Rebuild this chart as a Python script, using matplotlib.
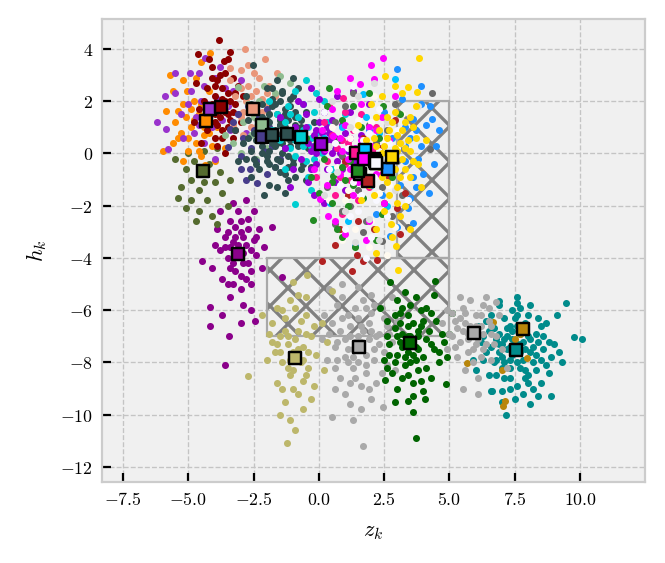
import matplotlib
matplotlib.use("Agg")
import matplotlib.pyplot as plt
from matplotlib.patches import Rectangle
from matplotlib.ticker import FixedLocator, FuncFormatter

# ---------------- data ----------------
cluster_names = ['darkcyan', 'darkgoldenrod', 'darkgray', 'darkgreen', 'darkgrey', 'darkkhaki',
                 'darkmagenta', 'darkolivegreen', 'darkorange', 'darkorchid', 'darkred', 'darksalmon',
                 'darkseagreen', 'darkslateblue', 'darkslategray', 'darkslategrey', 'darkturquoise',
                 'darkviolet', 'deeppink', 'deepskyblue', 'dimgray', 'dimgrey', 'dodgerblue', 'firebrick',
                 'floralwhite', 'forestgreen', 'fuchsia', 'gainsboro', 'ghostwhite', 'gold']

center_z = [7.53, 7.83, 1.55, 3.49, 5.94, -0.91, -3.09, -4.46, -4.33, -4.18, -3.77, -2.53,
            -2.20, -2.20, -1.78, -1.21, -0.69, 0.08, 1.41, 1.78, 2.12, 1.57, 2.66, 1.89,
            2.20, 1.48, 1.74, 2.15, 2.20, 2.81]
center_h = [-7.54, -6.72, -7.42, -7.27, -6.87, -7.85, -3.83, -0.68, 1.23, 1.72, 1.77, 1.72,
            1.08, 0.64, 0.70, 0.75, 0.63, 0.37, 0.03, 0.12, -0.23, -0.80, -0.59, -1.06,
            -0.36, -0.68, -0.20, -0.30, -0.36, -0.13]

pts_darkcyan = [(7.5,-7.5),(7.2,-7.0),(7.8,-7.2),(7.0,-7.8),(8.1,-7.6),(7.6,-6.6),(6.9,-6.9),(8.3,-6.9),(7.3,-8.2),(7.9,-8.3),
    (6.6,-7.4),(8.5,-7.9),(7.1,-6.3),(8.0,-6.2),(6.8,-8.5),(7.6,-8.9),(8.6,-7.0),(6.5,-6.8),(7.4,-6.0),(8.8,-8.4),
    (7.0,-9.1),(8.2,-9.0),(6.3,-7.9),(9.0,-7.3),(7.7,-5.9),(6.9,-5.8),(8.4,-6.3),(7.2,-7.5),(7.8,-7.9),(7.4,-7.1),
    (7.0,-7.3),(8.0,-7.0),(7.6,-8.0),(6.7,-8.0),(8.3,-8.3),(7.3,-6.6),(8.7,-6.5),(6.4,-6.4),(7.9,-6.8),(7.1,-8.6),
    (8.9,-7.8),(6.2,-7.2),(7.5,-9.4),(8.5,-8.8),(6.6,-9.1),(9.3,-8.0),(9.45,-5.72),(9.77,-7.03),(10.09,-7.09),(7.16,-10.0),
    (6.62,-9.1),(6.9,-5.63),(7.6,-5.72),(9.1,-6.2),(8.9,-9.3),(6.1,-6.6),(5.9,-7.9),(8.1,-9.6),(7.7,-7.3),(7.3,-7.9),
    (8.2,-7.4),(6.8,-7.1),(7.5,-6.3),(8.6,-7.5),(6.5,-8.5),(7.9,-8.6),(7.0,-8.2),(8.4,-7.2),(7.7,-6.9),(6.9,-7.6),
    (7.4,-7.7),(7.9,-7.5),(7.1,-7.1),(8.2,-8.0),(6.8,-7.9),(7.6,-6.2),(8.5,-6.6),(7.3,-8.6),(8.0,-8.8),(6.4,-7.6),
    (7.7,-7.6),(7.2,-6.7),(8.7,-8.1),(6.6,-6.2),(8.1,-5.8),(7.0,-9.5),(7.8,-9.2),(9.2,-7.6),(6.0,-8.3),(8.4,-9.3),
    (7.5,-7.2),(7.3,-7.4),(7.7,-8.2),(8.1,-7.1),(6.9,-7.3),(7.4,-6.8),(8.3,-7.7),(7.1,-8.0),(7.9,-6.5),(6.7,-6.7),
    (8.0,-8.5),(7.3,-9.0),(8.8,-7.2),(6.3,-7.0),(7.6,-5.5)]
pts_darkgoldenrod = [(7.8,-6.7),(7.7,-6.9),(6.68,-6.46),(5.66,-8.04),(7.0,-8.3),(7.98,-7.83),(7.51,-7.12),(7.13,-9.49),(7.06,-9.68)]
pts_darkgray = [(1.5,-7.4),(1.2,-7.0),(1.9,-7.1),(1.0,-7.8),(2.1,-7.9),(1.6,-6.6),(0.8,-6.8),(2.3,-6.9),(1.3,-8.2),(1.8,-8.4),
    (0.6,-7.4),(2.5,-7.6),(1.1,-6.2),(2.0,-6.1),(0.8,-8.6),(1.6,-8.9),(2.6,-6.6),(0.5,-6.5),(1.4,-5.9),(2.2,-8.8),
    (1.0,-9.2),(2.0,-9.4),(0.3,-7.9),(2.8,-7.2),(1.7,-5.6),(0.9,-5.5),(2.4,-5.9),(1.3,-7.5),(1.8,-7.7),(1.5,-7.0),
    (0.4,-5.2),(0.9,-5.0),(1.5,-5.1),(2.0,-5.4),(0.5,-10.1),(1.3,-10.2),(2.45,-9.7),(1.7,-11.2),(0.2,-6.2),(2.9,-8.3),
    (1.1,-8.0),(1.9,-6.5),(0.7,-7.2),(2.3,-7.3),(1.4,-8.6),(1.6,-9.8),(0.6,-9.0),(3.0,-6.4),(1.2,-6.6),(2.1,-7.5),
    (1.4,-7.2),(1.7,-6.8),(1.1,-7.5),(2.2,-7.0),(1.5,-8.0),(0.9,-6.3),(2.5,-6.3),(0.6,-8.2),(1.9,-9.0),(2.6,-8.1),
    (0.1,-7.1),(1.2,-9.6),(2.8,-5.5),(1.8,-5.9),(0.7,-5.8),
    (1.3,-7.8),(1.6,-7.2),(1.0,-7.1),(2.0,-6.8),(1.8,-8.1),(0.7,-7.9),(2.4,-8.4),(1.2,-8.8),(1.5,-6.3),(0.4,-6.9),(2.7,-6.9),(2.1,-5.8)]
pts_darkgreen = [(3.5,-7.3),(3.2,-6.9),(3.8,-7.0),(3.0,-7.7),(4.0,-7.8),(3.6,-6.5),(2.9,-6.7),(4.2,-6.8),(3.3,-8.1),(3.8,-8.3),
    (2.7,-7.3),(4.4,-7.5),(3.1,-6.1),(3.9,-6.0),(2.8,-8.4),(3.6,-8.8),(4.5,-6.4),(2.6,-6.4),(3.5,-5.8),(4.3,-8.6),
    (3.0,-9.0),(4.0,-9.1),(2.5,-7.9),(4.8,-7.2),(3.7,-5.5),(3.0,-5.6),(4.1,-5.9),(3.4,-7.6),(3.7,-7.9),(3.5,-7.0),
    (2.72,-4.93),(4.45,-4.88),(3.72,-10.9),(4.06,-9.4),(3.41,-9.46),(4.87,-8.82),(2.53,-8.66),(2.34,-5.9),(5.0,-6.9),(4.9,-7.8),
    (3.2,-7.4),(3.9,-6.6),(2.9,-8.0),(4.3,-7.3),(3.4,-8.5),(3.8,-7.5),(3.1,-6.5),(4.6,-8.0),(5.1,-6.1),(3.3,-5.3),
    (3.4,-7.0),(3.7,-7.4),(3.1,-7.2),(4.1,-7.1),(3.5,-8.0),(2.9,-6.2),(4.3,-6.1),(3.2,-8.6),(3.9,-8.7),(4.6,-7.6),
    (2.6,-7.0),(3.6,-9.9),(4.4,-5.4),(3.4,-6.2),(2.9,-9.5),
    (3.3,-7.8),(3.6,-7.7),(3.8,-6.8),(3.0,-7.0),(4.1,-8.2),(3.4,-6.6),(2.7,-7.7),(4.0,-6.4),(3.6,-9.3),(4.7,-6.9),(3.2,-5.9),(2.6,-8.2)]
pts_darkgrey = [(5.9,-6.9),(5.6,-6.5),(6.2,-6.6),(5.4,-7.2),(6.4,-7.3),(6.0,-6.2),(5.2,-6.4),(6.6,-6.6),(5.7,-7.6),(6.2,-7.8),
    (5.0,-6.9),(6.8,-7.0),(5.5,-5.9),(6.3,-5.8),(5.3,-7.8),(6.0,-7.3),(6.9,-6.2),(5.1,-6.1),(5.8,-5.6),(6.6,-7.9),
    (5.6,-8.3),(6.1,-8.6),(4.9,-7.5),(7.0,-7.5),(6.4,-5.5),(5.4,-5.5),(4.9,-6.0),(6.0,-6.9),(5.7,-7.1),(6.3,-6.9),
    (6.1,-9.2),(5.5,-9.0),(7.2,-8.2),(4.7,-6.5),(6.8,-5.7),
    (5.8,-6.6),(6.1,-7.1),(5.5,-6.8),(6.5,-6.4),(5.9,-7.5),(5.3,-6.7),(6.7,-7.3),(5.6,-6.1),(6.2,-6.2),(5.2,-7.4),
    (6.0,-6.6),(5.7,-6.9),(6.3,-7.5),(5.4,-6.3),(6.6,-6.9),(5.9,-8.0),(5.1,-7.0),(6.5,-5.9)]
pts_darkkhaki = [(-0.9,-7.8),(-1.2,-7.3),(-0.6,-7.4),(-1.4,-8.0),(-0.4,-8.2),(-0.8,-6.8),(-1.5,-7.0),(-0.3,-7.0),(-1.1,-8.5),(-0.6,-8.7),
    (-1.7,-7.6),(-0.1,-7.7),(-1.3,-6.3),(-0.5,-6.2),(-1.6,-8.8),(-0.8,-9.2),(0.1,-6.5),(-1.8,-6.5),(-0.9,-5.9),(-0.2,-8.9),
    (-1.3,-9.5),(-0.6,-9.8),(-2.0,-7.9),(0.3,-7.2),(-1.1,-5.6),(-1.6,-5.9),(-0.5,-5.5),(-1.0,-7.6),(-0.7,-8.0),(-1.2,-7.0),
    (-2.73,-8.54),(-1.24,-11.1),(-0.47,-4.64),(0.49,-5.28),(-0.98,-4.93),(-1.9,-6.9),(-1.1,-10.2),(-0.9,-10.6),(-1.5,-10.0),(-0.2,-6.6),
    (-2.2,-6.2),(0.2,-8.3),(-1.4,-9.0),(-0.3,-9.4),(-1.8,-7.2),
    (-0.9,-7.1),(-1.1,-7.9),(-0.6,-7.9),(-1.3,-6.8),(-0.5,-6.9),(-1.0,-8.3),(-0.8,-5.4),(-1.5,-7.6),
    (-0.8,-7.5),(-1.2,-8.2),(-0.4,-7.6),(-1.6,-7.3),(-0.7,-6.4),(-1.0,-9.0),(-1.4,-6.0),(-0.5,-8.5)]
pts_darkmagenta = [(-3.1,-3.8),(-3.3,-3.4),(-2.8,-3.5),(-3.5,-4.0),(-2.7,-4.2),(-3.0,-3.0),(-3.6,-3.2),(-2.5,-3.3),(-3.2,-4.5),(-2.8,-4.8),
    (-3.8,-3.7),(-2.4,-3.9),(-3.4,-2.6),(-2.7,-2.5),(-3.7,-4.8),(-3.0,-5.2),(-2.3,-2.9),(-3.9,-2.9),(-3.1,-2.2),(-2.6,-5.0),
    (-3.4,-5.5),(-2.9,-5.8),(-4.1,-4.4),(-2.2,-4.4),(-3.3,-1.9),(-3.8,-2.2),(-2.8,-1.8),(-3.2,-3.9),(-2.9,-4.2),(-3.4,-3.6),
    (-4.18,-6.62),(-3.46,-7.0),(-4.18,-5.86),(-2.45,-6.43),(-4.47,-4.13),(-1.81,-2.81),(-1.43,-4.73),(-3.6,-8.1),(-3.7,-6.2),(-2.6,-6.0),
    (-3.5,-5.0),(-2.5,-2.2),(-4.0,-3.5),(-2.1,-3.6),(-3.0,-6.5),
    (-3.1,-3.5),(-3.3,-4.2),(-2.9,-3.8),(-3.5,-3.0),(-2.6,-3.7),(-3.2,-2.8),(-3.0,-4.7),(-2.7,-2.9),
    (-3.2,-3.2),(-2.9,-3.2),(-3.4,-4.4),(-2.6,-4.5),(-3.6,-3.6),(-3.0,-2.6),(-3.3,-5.0),(-2.4,-3.2)]
pts_darkolivegreen = [(-4.5,-0.7),(-4.8,-0.3),(-4.2,-0.4),(-4.9,-1.0),(-4.0,-1.1),(-4.6,-1.4),(-5.1,-0.6),(-3.8,-0.7),(-4.3,-1.8),(-4.9,-1.8),
    (-5.3,-1.3),(-3.7,-1.5),(-4.6,-2.2),(-4.1,-2.4),(-5.5,-0.2),(-5.1,-2.1),(-3.5,-2.0),(-4.4,0.1),(-5.0,0.0),(-3.9,-2.7),
    (-4.7,-2.6),(-5.4,-1.7),(-3.4,-1.0),(-4.4,-1.1),(-3.9,0.2)]
pts_darkorange = [(-4.3,1.2),(-4.6,1.5),(-4.9,1.0),(-4.4,0.7),(-5.1,1.4),(-4.7,0.4),(-5.3,0.8),(-4.1,0.3),(-5.0,0.1),(-4.5,-0.1),
    (-5.5,1.2),(-5.6,0.4),(-5.84,1.62),(-5.58,2.39),(-5.97,0.09),(-4.18,3.83),(-4.5,3.5),(-5.06,2.38),(-5.4,1.63),(-4.37,-0.44),
    (-4.8,2.0),(-4.2,2.4),(-5.2,2.8),(-3.9,1.0),(-3.6,0.2),(-4.0,-0.3),(-5.2,-0.3),(-4.7,2.9),(-3.8,2.0),(-5.7,3.0),
    (-4.4,1.0),(-4.8,1.3),(-5.0,0.6),(-4.6,0.1),(-4.2,0.8),(-5.2,1.9),(-4.9,1.7),(-5.4,0.6),(-4.5,1.9)]
pts_darkorchid = [(-4.2,1.7),(-4.5,2.0),(-3.9,2.1),(-4.7,1.4),(-3.7,1.3),(-4.4,2.6),(-5.0,1.9),(-3.5,1.8),(-4.1,1.0),(-4.8,0.8),
    (-5.3,1.5),(-3.3,2.4),(-4.0,2.9),(-4.6,3.1),(-5.5,2.3),(-3.4,0.9),(-4.4,0.4),(-5.2,0.6),(-3.1,1.5),(-3.8,3.3),
    (-4.94,3.09),(-4.37,3.67),(-5.84,0.93),(-5.77,0.16),(-6.2,1.2),(-5.9,2.2),(-5.5,3.1),(-3.0,2.8),(-4.0,-0.2),(-2.8,0.8),
    (-4.3,1.9),(-3.6,2.5),(-4.9,2.4),(-4.6,1.1)]
pts_darkred = [(-3.8,1.8),(-4.0,2.2),(-3.5,2.3),(-4.2,1.4),(-3.4,1.3),(-3.9,2.8),(-4.4,2.0),(-3.2,1.9),(-3.7,0.9),(-4.3,0.9),
    (-4.6,1.7),(-3.1,2.6),(-3.6,3.1),(-4.1,3.3),(-4.7,2.7),(-3.3,0.6),(-3.9,0.3),(-4.5,0.4),(-3.0,1.2),(-3.5,3.6),
    (-3.83,4.35),(-4.62,3.8),(-3.64,3.54),(-4.0,1.5),(-3.6,1.6),(-3.3,2.9),(-4.3,2.5),(-3.9,1.1),(-2.9,2.2),(-3.6,0.0),
    (-4.8,1.2),(-3.4,3.9),(-4.2,3.6),(-4.0,0.6),(-3.7,2.5),
    (-3.9,1.9),(-3.6,2.0),(-4.1,1.9),(-3.8,1.4),(-3.5,1.0),(-4.3,1.5),(-3.4,2.0),(-4.0,2.6),(-3.7,0.6),(-3.2,2.3),
    (-3.7,2.1),(-4.0,1.2),(-3.5,1.5),(-4.1,2.9),(-3.3,1.6),(-3.8,3.0),(-4.4,1.2),(-3.2,0.9)]
pts_darksalmon = [(-2.5,1.7),(-2.8,2.0),(-2.2,2.1),(-3.0,1.4),(-2.3,1.3),(-2.7,2.6),(-3.2,2.2),(-2.0,1.8),(-2.6,1.0),(-3.3,1.1),
    (-3.4,2.8),(-1.9,2.6),(-2.5,3.1),(-3.0,3.2),(-2.84,3.99),(-2.07,3.6),(-1.62,3.09),(-3.41,3.29),(-2.3,2.9),(-1.7,2.2),
    (-3.6,1.8),(-2.9,0.7),(-2.1,1.2),(-3.0,2.5),(-2.4,2.4),(-2.6,2.2),(-2.9,1.6),(-2.2,1.6),(-2.7,3.4),(-2.0,2.3)]
pts_darkseagreen = [(-2.2,1.1),(-2.5,1.4),(-1.9,1.5),(-2.6,0.7),(-1.8,0.8),(-2.3,2.0),(-3.1,2.53),(-1.49,2.96),(-1.11,2.71),(-3.29,0.42),
    (-3.6,0.7),(-2.9,1.2),(-1.5,1.3),(-2.0,0.2),(-2.7,1.9),(-1.7,2.3),(-2.4,-0.2),(-3.0,0.0),(-1.3,0.6),(-2.1,2.6)]
pts_darkslateblue = [(-2.2,0.6),(-2.5,0.9),(-1.9,1.0),(-2.6,0.2),(-1.8,0.3),(-2.3,1.4),(-2.9,0.6),(-1.6,0.7),(-2.4,-0.3),(-3.0,-0.1),
    (-3.41,0.92),(-3.49,0.23),(-2.64,-0.61),(-2.39,-1.12),(-3.0,-0.6),(-3.1,1.5),(-1.5,-0.2),(-2.0,-0.8),(-2.7,1.8),(-1.3,1.4),
    (-2.1,0.1),(-2.8,-1.0),(-1.7,-0.5),(-3.3,1.2),(-2.0,1.7)]
pts_darkslategray = [(-1.8,0.7),(-2.1,1.0),(-1.5,1.1),(-2.2,0.3),(-1.4,0.4),(-1.9,1.5),(-2.5,0.8),(-1.1,0.9),(-2.0,-0.1),(-2.6,0.1),
    (-1.6,-0.2),(-1.2,-0.1),(-2.4,1.6),(-1.3,1.7),(-1.8,2.1),(-2.7,1.3),(-0.9,1.4),(-2.3,-0.6),(-1.5,-0.7),(-0.8,0.3),
    (-2.9,0.4),(-2.0,2.5),(-1.0,2.2),(-2.53,3.37),(-3.1,-0.3),(-1.9,-1.2),(-1.2,-1.0),(-0.6,-0.4),(-2.8,2.2),(-1.6,2.8),
    (-1.7,0.3),(-2.0,0.5),(-1.4,0.8),(-1.9,1.2),(-2.3,1.2),(-1.1,0.5),(-1.6,1.5),(-2.2,0.0),(-0.7,1.0),(-2.6,-0.9),
    (-1.3,-1.5),(-2.1,-1.6),(-0.5,-1.0),(-3.2,0.9),(-1.0,2.9),
    (-1.7,0.9),(-2.0,0.8),(-1.5,0.5),(-2.4,0.5),(-1.8,1.8),(-1.2,1.3),(-2.7,0.6),(-1.9,-0.4),(-1.0,-0.4),(-2.5,-0.2),(-1.4,2.3),(-2.2,1.9),
    (-1.6,0.6),(-2.1,0.6),(-1.8,0.4),(-1.5,1.3),(-2.2,1.4),(-1.3,0.2),(-2.4,-0.4),(-1.7,-0.5),(-1.1,1.8),(-2.6,1.9),
    (-0.9,0.7),(-2.8,-0.2),(-1.5,2.0),(-2.0,1.3),(-1.9,0.1)]
pts_darkslategrey = [(-1.2,0.8),(-1.5,1.1),(-0.9,1.1),(-1.6,0.4),(-0.8,0.4),(-1.3,1.5),(-1.9,0.9),(-0.6,0.9),(-1.4,0.0),(-1.0,-0.2),
    (-0.5,1.6),(-1.7,1.9),(-1.1,2.1),(-0.4,0.2),(-2.0,-0.3),(-1.3,-0.8),(-0.7,-0.6),(-0.2,1.2),(-1.8,2.5),(-0.8,2.5),
    (-0.9,1.6),(-1.4,0.6),(-1.1,0.3),(-0.3,-0.5),(-1.6,-1.3),
    (-1.0,0.6),(-1.3,1.0),(-0.7,1.3),(-1.5,-0.3),(-0.5,0.5),(-1.2,-0.5),(-0.9,-0.9),(-1.4,2.4)]
pts_darkturquoise = [(-0.7,0.6),(-1.0,0.9),(-0.4,1.0),(-1.1,0.2),(-0.3,0.3),(-0.8,1.4),(-1.3,1.2),(-0.1,0.8),(-0.9,-0.1),(-0.5,-0.3),
    (-1.5,0.5),(-0.2,1.6),(-0.6,1.9),(-1.2,1.8),(-1.6,1.5),(0.1,0.0),(-0.92,-1.95),(-0.4,-0.9),(-1.3,-0.6),(-0.1,2.3),
    (-0.9,2.4),(-1.8,0.9),(0.3,1.2),(-0.6,0.3),(-0.3,-1.4),(0.5,-0.6),(-1.9,2.0),(0.2,2.0),(1.0,1.5),(-0.5,2.8),
    (-0.6,0.9),(-0.9,0.5),(-0.3,0.6),(-1.1,1.5),(-0.2,-0.2)]
pts_darkviolet = [(0.1,0.4),(-0.2,0.7),(0.4,0.8),(-0.3,0.1),(0.5,0.0),(0.0,1.2),(-0.6,0.6),(0.8,0.5),(-0.1,-0.4),(0.3,-0.6),
    (-0.7,-0.2),(0.9,1.1),(0.2,1.6),(-0.5,1.5),(1.1,0.1),(-0.9,1.0),(0.6,-1.1),(-0.4,-1.1),(1.2,1.6),(0.0,2.1),
    (-1.0,-0.6),(1.4,-0.3),(-0.8,2.0),(0.7,2.2),(-0.2,-1.6),(1.0,-1.4),(-1.3,0.2),(1.6,0.7),(0.3,0.3),(-0.1,0.0),
    (0.5,1.3),(-0.6,1.9),(0.9,-0.6),(-1.5,1.4),(1.9,1.9),(0.2,-1.9),(-0.3,2.5),(1.3,2.4),(-1.1,-1.3),(0.6,0.6),
    (0.2,0.1),(-0.1,0.9),(0.6,0.2),(-0.4,0.4),(0.3,1.0),(0.7,-0.3),(-0.3,-0.6),(1.0,0.8),
    (0.4,0.5),(-0.2,0.3),(0.1,0.8),(0.8,0.0),(-0.5,1.0),(1.2,0.6)]
pts_deeppink = [(1.4,0.0),(1.1,0.4),(1.7,0.5),(1.0,-0.4),(1.8,-0.5),(1.3,0.9),(0.7,0.2),(2.1,0.1),(1.2,-1.0),(0.8,-0.9),
    (0.5,0.7),(0.92,2.13),(1.6,1.5),(0.3,-0.3),(2.2,1.0),(0.6,-1.6),(1.5,-1.8),(0.2,1.2),(2.4,-0.8),(1.0,1.6),
    (-0.1,-0.9),(1.9,-1.3),(0.9,-2.3),(2.6,0.6),(0.4,1.8),(1.2,0.2),(1.6,-0.2),(0.9,0.5),(1.4,-0.6)]
pts_deepskyblue = [(1.7,0.1),(1.69,2.27),(2.91,2.87),(0.42,-1.88),(1.3,-0.6),(2.3,0.8),(0.9,1.0),(2.0,-1.2),(1.1,-2.6),(2.6,-2.0),(0.2,0.6),(1.8,1.4)]
pts_dimgray = [(2.1,-0.2),(4.34,2.33),(4.25,0.16),(1.3,2.3),(2.4,-3.36),(1.8,-2.6),(2.9,1.9),(0.6,1.2),(3.2,-1.6),(1.5,-1.4),(2.6,0.9),(0.9,-2.2),(3.4,-2.8),(1.9,1.1)]
pts_dimgrey = [(1.6,-0.8),(0.9,-0.1),(2.4,-1.3),(1.2,-2.0),(2.2,0.4),(0.3,-1.3),(3.0,-0.3),(1.7,-3.0),(2.8,-2.4),(1.0,1.8),(0.6,-2.7),(3.6,1.0)]
pts_dodgerblue = [(2.7,-0.6),(4.25,1.82),(4.32,1.31),(3.6,1.31),(3.7,0.9),(4.0,-0.8),(3.62,-2.66),(3.4,-2.1),(2.98,3.22),(1.38,-3.55),
    (2.72,-3.17),(3.3,0.3),(3.8,-0.2),(3.1,-1.2),(3.9,1.9),(2.5,1.6),(4.5,0.3),(3.5,-1.7),(2.2,-2.3),(4.2,-1.5),
    (3.2,2.1),(2.8,0.6),(3.6,-0.9),(4.4,-0.4),(1.9,0.9),(3.0,-2.8),(4.6,0.9),(2.4,-1.6),(3.9,2.6),(3.3,1.0),
    (3.5,0.6),(3.9,0.3),(3.3,-0.3),(4.1,1.1),(3.7,-1.3)]
pts_firebrick = [(1.9,-1.1),(1.44,-3.87),(1.70,-4.13),(1.25,-4.51),(2.21,-4.06),(0.1,-4.13),(3.1,-3.1),(2.98,-2.1),(1.5,-2.6),(2.5,-1.9),
    (1.1,-1.6),(2.3,0.2),(0.8,-2.9),(2.7,-0.9),(1.7,0.6),(2.9,1.3),(1.0,-0.3),(2.1,-2.9),(3.3,-1.5),(0.6,-3.5)]
pts_floralwhite = [(2.2,-0.4),(1.8,0.3),(2.5,0.5),(1.5,-0.9),(2.7,-1.2),(1.2,0.6),(2.0,1.2),(3.0,0.2),(1.0,-1.8),(2.4,-2.2),
    (1.6,1.8),(0.7,-0.5),(2.9,-2.8),(1.4,-2.9),(0.5,1.0),(3.2,1.5),(2.1,2.2),(0.9,-3.3),(1.9,-3.6),(2.6,-3.9),
    (1.3,-0.1),(2.3,-1.5),(1.7,-1.2),(0.4,-1.8),(3.3,-0.9),(1.8,-0.6),(1.4,0.9),(2.4,-0.1),(1.1,-1.4),(2.0,-2.6)]
pts_forestgreen = [(1.5,-0.7),(1.2,-0.3),(1.8,-0.2),(1.0,-1.0),(2.0,-1.1),(0.3,1.82),(1.3,1.8),(0.54,-0.87),(-0.23,-2.53),(0.68,-2.9),
    (0.9,-3.2),(2.45,1.8),(3.1,1.5),(0.7,0.5),(2.3,0.6),(1.1,-2.0),(2.4,-2.3),(0.2,-0.2),(1.6,1.0),(0.0,-1.5),
    (2.8,-0.9),(1.4,-3.6),(-0.5,0.6),(0.5,-1.9),(1.9,2.3),(2.2,-3.3),(0.9,1.3),(-0.3,-0.9),(1.7,-1.7),(0.4,2.5),
    (1.3,-1.2),(0.9,-0.5),(1.8,0.3),(0.5,-1.1)]
pts_fuchsia = [(1.7,-0.2),(1.4,0.2),(2.0,0.3),(1.2,-0.6),(2.2,-0.8),(2.46,3.67),(2.0,3.4),(2.1,2.84),(1.57,2.65),(0.54,0.66),
    (0.23,0.16),(0.04,-1.76),(0.35,-2.4),(0.6,-2.6),(1.0,1.1),(2.4,1.4),(0.8,-0.8),(1.6,1.9),(2.7,0.5),(1.3,-1.6),
    (0.5,1.7),(2.5,-1.9),(1.0,-3.1),(0.1,0.9),(1.9,-2.6),(2.9,2.2),(0.7,2.4),(1.5,-1.1),(-0.2,-0.6),(1.2,2.9),
    (2.2,0.9),(0.9,0.1),(1.8,-3.3),(0.3,-1.2),(1.6,0.5),(1.1,-0.2),(2.1,-0.3),(0.8,0.6),(1.4,-0.9),(1.9,1.0)]
pts_gainsboro = [(1.8,-0.5),(1.2,1.0),(2.6,1.2),(0.7,-0.7),(2.9,-1.4),(1.5,2.2),(1.9,-2.5),(0.4,0.3),(2.3,-3.3),(1.0,-2.2),
    (3.2,0.4),(2.1,2.7),(0.2,-1.6),(1.4,-3.4),(2.7,-0.5),(3.8,1.8),(1.3,0.0),(0.5,2.0)]
pts_ghostwhite = [(2.0,-0.3),(1.6,0.0),(2.3,0.1),(1.4,-0.5),(2.5,-0.7),(1.1,0.2),(1.9,0.8),(2.8,-0.2),(0.8,-1.2),(2.2,-1.8),
    (1.5,1.3),(0.6,0.4),(2.6,-2.4),(1.2,-2.4),(0.4,-0.6),(3.0,0.9),(2.3,1.7),(1.0,-2.9),(2.0,-3.2),(1.6,-1.6),
    (2.9,2.5),(0.2,1.6),(3.4,-1.8),(1.8,-4.0),(1.3,2.6),(2.1,-0.9),(1.7,0.5),(1.3,-1.1),(2.7,0.4),(1.5,-2.2)]
pts_gold = [(2.8,-0.1),(2.5,0.3),(3.1,0.4),(2.3,-0.5),(3.3,-0.6),(2.7,0.9),(2.1,0.6),(3.5,0.1),(2.6,-1.1),(3.0,-1.3),
    (2.0,-0.2),(3.6,1.0),(2.9,1.6),(2.2,1.4),(3.8,-0.4),(1.9,-1.2),(3.3,-2.0),(2.5,-2.2),(3.7,1.8),(2.4,2.2),
    (3.85,3.67),(3.77,2.37),(3.4,2.53),(3.2,2.3),(2.53,2.96),(2.95,-3.55),(3.04,-4.48),(2.2,-2.9),(1.8,0.5),(3.9,-1.3),
    (2.75,-2.7),(1.6,-1.8),(3.5,-0.9),(2.0,1.9),(3.0,0.7),(2.6,-0.4),(3.2,-0.2),(2.4,0.0),(1.5,1.1),(4.1,0.5),
    (2.9,2.6),(3.5,-2.9),(2.1,-1.6),(3.3,1.2),(2.2,-3.8),
    (2.9,0.2),(2.6,0.6),(3.2,0.9),(2.4,-0.9),(3.1,-0.9),(2.7,-1.6),(3.4,0.5),(2.2,0.3),(3.6,-0.3),(2.8,1.2),(3.0,-1.9),(3.7,0.6),
    (2.7,0.0),(3.0,0.1),(2.5,-0.7),(3.3,0.2),(2.9,-0.6),(2.3,0.9),(3.5,1.4),(2.6,1.4),(3.1,-2.4),(2.8,-3.2)]

cluster_points = [pts_darkcyan, pts_darkgoldenrod, pts_darkgray, pts_darkgreen, pts_darkgrey, pts_darkkhaki,
                  pts_darkmagenta, pts_darkolivegreen, pts_darkorange, pts_darkorchid, pts_darkred, pts_darksalmon,
                  pts_darkseagreen, pts_darkslateblue, pts_darkslategray, pts_darkslategrey, pts_darkturquoise,
                  pts_darkviolet, pts_deeppink, pts_deepskyblue, pts_dimgray, pts_dimgrey, pts_dodgerblue, pts_firebrick,
                  pts_floralwhite, pts_forestgreen, pts_fuchsia, pts_gainsboro, pts_ghostwhite, pts_gold]

# hatched regions: (z0, h0, width, height)
region_lower = (-2.0, -7.0, 7.0, 3.0)
region_upper = (3.0, -4.0, 2.0, 6.0)

x_ticks = [-7.5, -5.0, -2.5, 0.0, 2.5, 5.0, 7.5, 10.0]
y_ticks = [-12, -10, -8, -6, -4, -2, 0, 2, 4]

# ---------------- style ----------------
DPI = 108
K = 160 / DPI  # scale factor for point-based sizes

plt.rcParams['mathtext.fontset'] = 'cm'
plt.rcParams['font.family'] = ['DejaVu Serif']
plt.rcParams['hatch.linewidth'] = 2.2

fig = plt.figure(figsize=(665 / DPI, 563 / DPI), dpi=DPI)
ax = fig.add_axes([102 / 665, 1 - 482 / 563, 543 / 665, 463 / 563])
ax.set_facecolor('#f0f0f0')

for (z0, h0, w, hgt) in (region_lower, region_upper):
    ax.add_patch(Rectangle((z0, h0), w, hgt, fill=False, hatch='x', edgecolor='#808080',
                           linewidth=0, zorder=1))
    ax.add_patch(Rectangle((z0, h0), w, hgt, fill=False, edgecolor='#a8a8a8',
                           linewidth=1.0 * K, zorder=1))

for name, pts in zip(cluster_names, cluster_points):
    zs = [p[0] for p in pts]
    hs = [p[1] for p in pts]
    ax.scatter(zs, hs, s=10 * K * K, c=name, linewidths=0, zorder=2)

for z, h, name in zip(center_z, center_h, cluster_names):
    ax.scatter([z], [h], s=30 * K * K, marker='s', c=name, edgecolors='black',
               linewidths=1.1 * K, zorder=3)

ax.set_xlim(-8.31, 12.49)
ax.set_ylim(-12.58, 5.15)
ax.xaxis.set_major_locator(FixedLocator(x_ticks))
ax.yaxis.set_major_locator(FixedLocator(y_ticks))
ax.xaxis.set_major_formatter(FuncFormatter(lambda v, p: f'${v:.1f}$'))
ax.yaxis.set_major_formatter(FuncFormatter(lambda v, p: f'${int(round(v))}$'))
ax.tick_params(direction='in', length=4 * K, width=1.0 * K, color='black', labelsize=8 * K, pad=4 * K)
ax.grid(True, linestyle='--', color='#c4c4c4', linewidth=0.6 * K)
ax.set_axisbelow(True)
for sp in ax.spines.values():
    sp.set_color('#cccccc')
    sp.set_linewidth(1.0 * K)

ax.set_xlabel('$z_k$', fontsize=10 * K, labelpad=5 * K)
ax.set_ylabel('$h_k$', fontsize=10 * K, labelpad=5 * K)

fig.savefig('out.png', dpi=DPI)
